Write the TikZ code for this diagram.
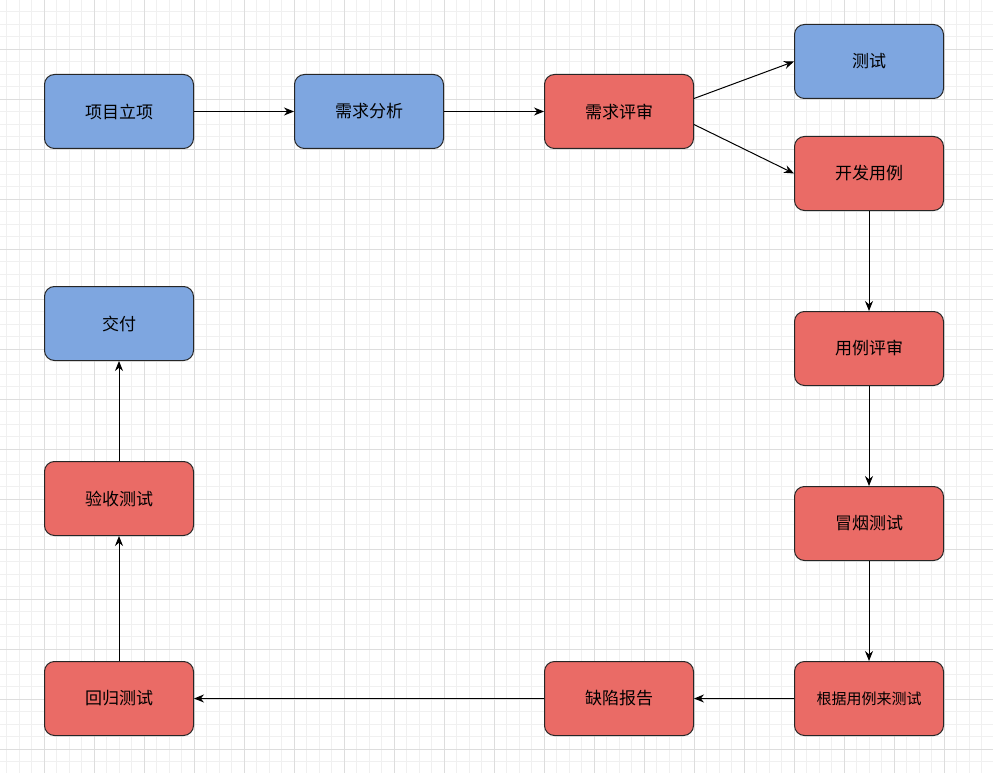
\documentclass[tikz,border=0pt]{standalone}
\usepackage{fontspec}
\setmainfont{Noto Sans CJK SC}
\usetikzlibrary{arrows.meta}
\definecolor{bfill}{HTML}{7EA6E0}
\definecolor{rfill}{HTML}{EA6B66}
\definecolor{gminor}{HTML}{F0F0F0}
\definecolor{gmajor}{HTML}{DDDDDD}
\begin{document}
\begin{tikzpicture}[x=1pt,y=-1pt,
  box/.style={draw=black!85, line width=1pt, rounded corners=10pt, minimum width=149pt, minimum height=74pt, inner sep=0pt, font=\fontsize{17}{20}\selectfont},
  bluebox/.style={box, fill=bfill},
  redbox/.style={box, fill=rfill},
  arr/.style={-{Stealth[length=10pt,width=8pt]}, line width=1pt, black}]
\path[use as bounding box, fill=white] (0,0) rectangle (993,773);
\foreach \x in {6.5,19,...,993} \draw[gminor, line width=0.8pt] (\x,0) -- (\x,773);
\foreach \y in {11.5,24,...,773} \draw[gminor, line width=0.8pt] (0,\y) -- (993,\y);
\foreach \x in {44,94,...,993} \draw[gmajor, line width=0.8pt] (\x,0) -- (\x,773);
\foreach \y in {49,99,...,773} \draw[gmajor, line width=0.8pt] (0,\y) -- (993,\y);

\node[bluebox] (lx) at (119,111.5) {项目立项};
\node[bluebox] (fx) at (369,111.5) {需求分析};
\node[redbox] (ps) at (619,111.5) {需求评审};
\node[bluebox] (cs) at (869,61.5) {测试};
\node[redbox] (kf) at (869,173.5) {开发用例};
\node[redbox] (yl) at (869,348.5) {用例评审};
\node[redbox] (my) at (869,523.5) {冒烟测试};
\node[redbox, font=\fontsize{15}{18}\selectfont] (gj) at (869,698.5) {根据用例来测试};
\node[redbox] (qx) at (619,698.5) {缺陷报告};
\node[redbox] (hg) at (119,698.5) {回归测试};
\node[redbox] (ys) at (119,498.5) {验收测试};
\node[bluebox] (jf) at (119,323.5) {交付};

\draw[arr] (lx.east) -- (fx.west);
\draw[arr] (fx.east) -- (ps.west);
\draw[arr] ([yshift=13pt]ps.east) -- (cs.west);
\draw[arr] ([yshift=-13pt]ps.east) -- (kf.west);
\draw[arr] (kf.south) -- (yl.north);
\draw[arr] (yl.south) -- (my.north);
\draw[arr] (my.south) -- (gj.north);
\draw[arr] (gj.west) -- (qx.east);
\draw[arr] (qx.west) -- (hg.east);
\draw[arr] (hg.north) -- (ys.south);
\draw[arr] (ys.north) -- (jf.south);
\end{tikzpicture}
\end{document}
